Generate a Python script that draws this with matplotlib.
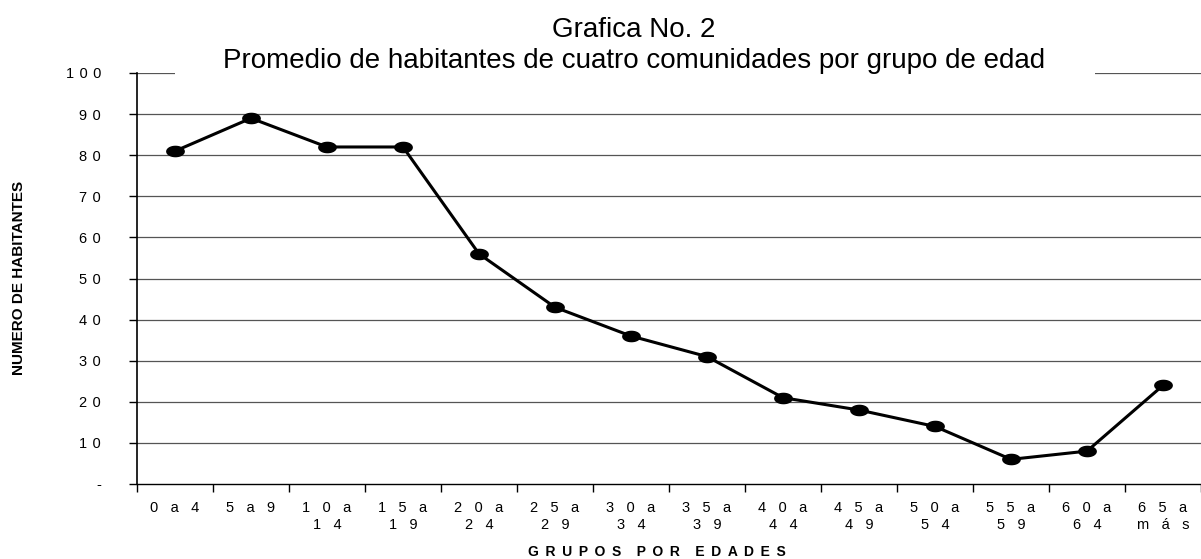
import matplotlib
matplotlib.use("Agg")
import matplotlib.pyplot as plt
import numpy as np
from matplotlib.path import Path
from matplotlib.patches import Rectangle

plt.rcParams['font.family'] = ['Liberation Sans', 'DejaVu Sans']

G = "   "
categories = ["0", "5", "10", "15", "20", "25", "30", "35", "40", "45", "50", "55", "60", "65"]
cat_ends = ["4", "9", "14", "19", "24", "29", "34", "39", "44", "49", "54", "59", "64", "más"]
values = [81, 89, 82, 82, 56, 43, 36, 31, 21, 18, 14, 6, 8, 24]
yticks = [0, 10, 20, 30, 40, 50, 60, 70, 80, 90, 100]


def spaced(s, gap):
    return gap.join(list(s))


def cat_label(a, b):
    if len(a) == 1:
        return spaced(a + "a" + b, G)
    return spaced(a, G) + G + "a" + "\n" + spaced(b, G)


labels = [cat_label(a, b) for a, b in zip(categories, cat_ends)]
ytick_labels = ["-"] + [spaced(str(v), " \u200a") for v in yticks[1:]]

W, H = 1201, 559
fig = plt.figure(figsize=(W / 100, H / 100), dpi=100)
ax = fig.add_axes([137 / W, 1 - 484 / H, (1201 - 137) / W, (484 - 73) / H])

x = np.arange(len(values))
t = np.linspace(0, 2 * np.pi, 40)
ell = Path(np.column_stack([1.7 * np.cos(t), np.sin(t)]), closed=True)
ax.plot(x, values, color='black', lw=2.2, marker=ell, markersize=12.5,
        markerfacecolor='black', markeredgecolor='black', zorder=3, clip_on=False)

ax.set_xlim(-0.5, len(values) - 0.5)
ax.set_ylim(0, 100)
ax.set_yticks(yticks)
ax.set_yticklabels(ytick_labels, fontsize=10.5)
for yv in yticks[1:]:
    ax.axhline(yv, color='#555555', lw=0.9, zorder=1)

ax.set_xticks(x)
ax.set_xticklabels(labels, fontsize=10.5, linespacing=1.3, va='top')
ax.set_xticks(np.arange(-0.5, len(values) + 0.5, 1), minor=True)
ax.tick_params(axis='x', which='major', length=0, pad=12)
ax.tick_params(axis='x', which='minor', length=6, width=1, direction='out')
ax.tick_params(axis='y', length=6, width=1, direction='out', pad=20)

for s in ['top', 'right']:
    ax.spines[s].set_visible(False)
ax.spines['left'].set_linewidth(1.2)
ax.spines['bottom'].set_linewidth(1.0)

fig.patches.append(Rectangle((175 / W, 1 - 80 / H), (1095 - 175) / W, 40 / H,
                             transform=fig.transFigure, facecolor='white',
                             edgecolor='none', zorder=5))
fig.text(634 / W, 1 - 37 / H, "Grafica No. 2", fontsize=20, ha='center', va='baseline', zorder=6)
fig.text(634 / W, 1 - 68 / H, "Promedio de habitantes de cuatro comunidades por grupo de edad",
         fontsize=20, ha='center', va='baseline', zorder=6)

LG = " \u2009"
xlab = "    ".join(LG.join(list(w)) for w in ["GRUPOS", "POR", "EDADES"])
fig.text(657 / W, 1 - 552 / H, xlab, fontsize=10, fontweight='bold', ha='center', va='center')
fig.text(19.5 / W, 1 - 278 / H, "NUMERO DE HABITANTES", fontsize=11, fontweight='bold',
         rotation=90, ha='center', va='center')

fig.savefig("out.png", dpi=100)
